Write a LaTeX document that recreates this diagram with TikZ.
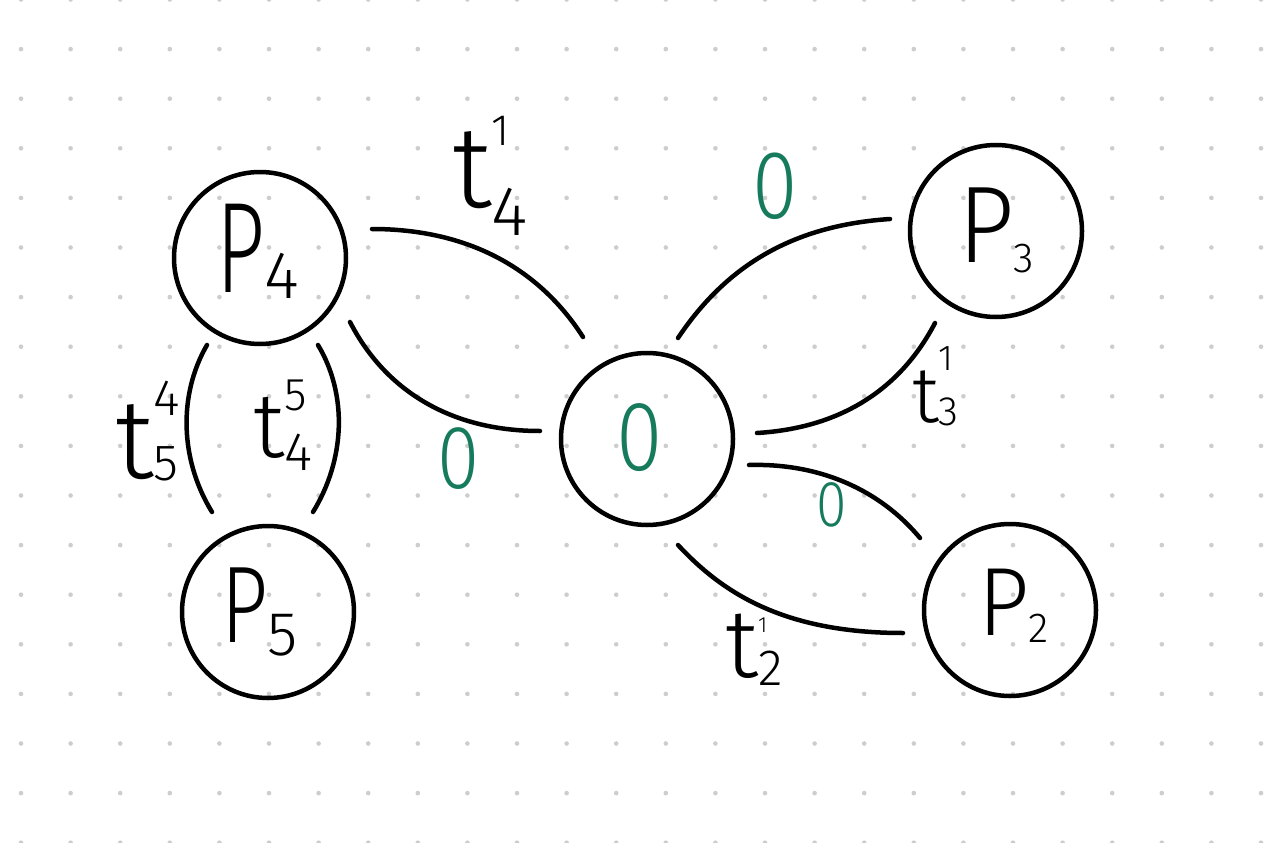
\documentclass[tikz,border=0pt]{standalone}
\usepackage{fontspec}
\setmainfont{Fira Sans Light}
\usepackage{graphicx}
\definecolor{inkgreen}{RGB}{22,122,92}
\definecolor{dotgray}{RGB}{205,205,205}
\newcommand{\fs}[1]{\fontsize{#1}{#1}\selectfont}
\newcommand{\lo}[2]{\raisebox{#1}{#2}}

\tikzset{
  vertex/.style={circle, draw=black, line width=4.5pt, minimum size=172pt, inner sep=0pt},
  edge/.style={line width=4.5pt, line cap=round},
  lbl/.style={inner sep=0pt, outer sep=0pt, text=black},
  zero/.style={inner sep=0pt, outer sep=0pt, text=inkgreen},
}

\begin{document}
\begin{tikzpicture}[x=1pt, y=-1pt]
  \useasboundingbox (0,0) rectangle (1280,843);
  \fill[white] (0,0) rectangle (1280,843);

  % dotted paper
  \foreach \i in {0,...,25}
    \foreach \j in {0,...,17}
      \fill[dotgray] ({21+49.6*\i},{-0.5+49.6*\j}) circle (2.3pt);

  % vertices
  \node[vertex] (P4) at (260,258) {};
  \node[vertex] (P5) at (268,612) {};
  \node[vertex] (O)  at (647,439) {};
  \node[vertex] (P3) at (996,231) {};
  \node[vertex] (P2) at (1010,610) {};

  % vertex labels
  \node[lbl, anchor=base west] (lP4) at (216,292)
    {\scalebox{0.66}[1]{\fs{129}P}\lo{-6pt}{\fs{67}4}};
  \node[lbl, anchor=base west] (lP5) at (221,642)
    {\scalebox{0.75}[1]{\fs{109}P}\lo{-13pt}{\fs{62}5}};
  \node[lbl, anchor=base west] (lP3) at (958,262)
    {\scalebox{0.9}[1]{\fs{109}P}\lo{-10pt}{\fs{42}3}};
  \node[lbl, anchor=base west] (lP2) at (978,635)
    {\scalebox{0.92}[1]{\fs{97}P}\lo{-7pt}{\fs{42}2}};
  \node[zero] (zO) at (640,438) {\scalebox{0.85}[1]{\fs{99}0}};

  % connector end points
  \coordinate (a1) at (372,229);  \coordinate (a2) at (583,337);
  \coordinate (b1) at (350,322);  \coordinate (b2) at (540,431);
  \coordinate (c1) at (678,338);  \coordinate (c2) at (890,219);
  \coordinate (d1) at (757,433);  \coordinate (d2) at (935,323);
  \coordinate (e1) at (749,465);  \coordinate (e2) at (920,538);
  \coordinate (f1) at (678,545);  \coordinate (f2) at (903,633);
  \coordinate (g1) at (207,345);  \coordinate (g2) at (212,512);
  \coordinate (h1) at (318,345);  \coordinate (h2) at (313,512);

  % connectors
  \draw[edge] (a1) .. controls (470,229) and (540,270) .. (a2);
  \draw[edge] (b1) .. controls (385,390) and (450,431) .. (b2);
  \draw[edge] (c1) .. controls (730,260) and (800,225) .. (c2);
  \draw[edge] (d1) .. controls (840,428) and (900,390) .. (d2);
  \draw[edge] (e1) .. controls (820,463) and (880,490) .. (e2);
  \draw[edge] (f1) .. controls (720,590) and (780,633) .. (f2);
  \draw[edge] (g1) .. controls (178,395) and (180,460) .. (g2);
  \draw[edge] (h1) .. controls (348,395) and (345,460) .. (h2);

  % connector weights
  \node[lbl, anchor=base west] (w41) at (452,207)
    {\fs{116}t\rlap{\lo{62pt}{\fs{44}1}}\lo{-28pt}{\fs{70}4}};
  \node[zero] (w0a) at (459,459) {\scalebox{0.85}[1]{\fs{90}0}};
  \node[zero] (w0b) at (775,186) {\scalebox{0.85}[1]{\fs{97}0}};
  \node[lbl, anchor=base west] (w31) at (912,422)
    {\fs{79}t\rlap{\lo{52pt}{\fs{36}1}}\lo{-3pt}{\fs{41}3}};
  \node[zero] (w0c) at (832,505) {\scalebox{0.85}[1]{\fs{65}0}};
  \node[lbl, anchor=base west] (w21) at (725,677)
    {\fs{97}t\rlap{\lo{45pt}{\fs{22}1}}\lo{-8pt}{\fs{51}2}};
  \node[lbl, anchor=base west] (w54) at (115,478)
    {\fs{113}t\rlap{\lo{63pt}{\fs{51}4}}\lo{-2pt}{\fs{51}5}};
  \node[lbl, anchor=base west] (w45) at (253,457)
    {\fs{92}t\rlap{\lo{47pt}{\fs{46}5}}\lo{-13pt}{\fs{54}4}};
\end{tikzpicture}
\end{document}
